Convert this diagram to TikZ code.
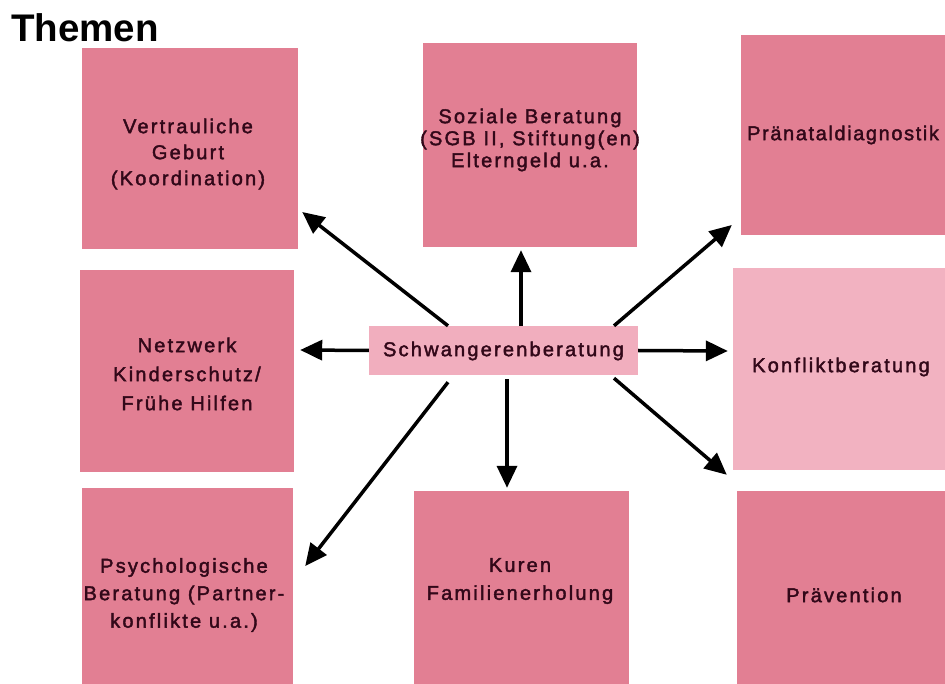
\documentclass[tikz,border=0pt]{standalone}
\usepackage{fontspec}
\setmainfont{Liberation Sans}
\newfontfamily\boxfont[LetterSpace=11,FakeBold=2]{Liberation Sans}
\newfontfamily\boxfontn[LetterSpace=8,FakeBold=2]{Liberation Sans}
\usetikzlibrary{arrows.meta}
\definecolor{pinkmain}{RGB}{226,127,147}
\definecolor{pinklight}{RGB}{242,178,193}
\definecolor{pinkcenter}{RGB}{241,174,190}
\definecolor{txtdark}{RGB}{50,8,25}
\tikzset{
  box/.style={fill=pinkmain, draw=none, inner sep=0pt},
  lbox/.style={fill=pinklight, draw=none, inner sep=0pt},
  btext/.style={font=\boxfont\fontsize{20}{26}\selectfont, text=txtdark, align=center, inner sep=0pt},
  conn/.style={line width=3.5pt, -{Triangle[length=22pt,width=20pt]}, black}
}
\begin{document}
\begin{tikzpicture}[x=1pt,y=-1pt]
\clip (0,0) rectangle (945,684);
\useasboundingbox (0,0) rectangle (945,684);
\fill[white] (0,0) rectangle (945,684);
% title
\node[anchor=base west, inner sep=0pt, font=\bfseries\fontsize{38.5}{40}\selectfont] (title) at (11,42) {Themen};
% boxes
\node[box, minimum width=216pt, minimum height=201pt] (vg) at (190,148.5) {};
\node[box, minimum width=214pt, minimum height=204pt] (sb) at (530,145) {};
\node[box, minimum width=220pt, minimum height=200pt] (pd) at (851,135) {};
\node[box, minimum width=214pt, minimum height=202pt] (nk) at (187,371) {};
\node[lbox, minimum width=222pt, minimum height=202pt] (kb) at (844,369) {};
\node[box, minimum width=211pt, minimum height=212pt] (pb) at (187.5,594) {};
\node[box, minimum width=215pt, minimum height=209pt] (kf) at (521.5,595.5) {};
\node[box, minimum width=218pt, minimum height=209pt] (pv) at (846,595.5) {};
\node[fill=pinkcenter, inner sep=0pt, minimum width=269pt, minimum height=49pt] (c) at (503.5,350.5) {};
% texts
\node[btext] (vgt) at (188,154) {Vertrauliche\\Geburt\\(Koordination)};
\node[btext, font=\boxfont\fontsize{20}{22}\selectfont] (sbt) at (530,140) {Soziale Beratung\\(SGB II, Stiftung(en)\\Elterngeld u.a.};
\node[btext, anchor=west, font=\boxfontn\fontsize{20}{26}\selectfont] (pdt) at (747,135) {Pränataldiagnostik};
\node[btext, font=\boxfont\fontsize{20}{29}\selectfont] (nkt) at (187,374) {Netzwerk\\Kinderschutz/\\Frühe Hilfen};
\node[btext] (kbt) at (841,367) {Konfliktberatung};
\node[btext, font=\boxfont\fontsize{20}{27.5}\selectfont] (pbt) at (184,595) {Psychologische\\Beratung (Partner-\\konflikte u.a.)};
\node[btext, font=\boxfont\fontsize{20}{28}\selectfont] (kft) at (520,581) {Kuren\\Familienerholung};
\node[btext] (pvt) at (844,595) {Prävention};
\node[btext] (ct) at (503.5,351) {Schwangerenberatung};
% connectors
\draw[conn] ([xshift=-55.5pt]c.north) -- ([xshift=4pt,yshift=-63.5pt]vg.east);
\draw[conn] ([xshift=17.5pt]c.north) -- ([xshift=-9pt,yshift=-3pt]sb.south);
\draw[conn] ([xshift=110.5pt]c.north) -- ([xshift=-9pt,yshift=-90pt]pd.west);
\draw[conn] (c.west) -- ([xshift=6pt,yshift=21pt]nk.east);
\draw[conn] (c.east) -- ([xshift=-5pt,yshift=18pt]kb.west);
\draw[conn] ([xshift=-55.5pt,yshift=-7pt]c.south) -- ([xshift=12pt,yshift=28pt]pb.east);
\draw[conn] ([xshift=3.5pt,yshift=-4pt]c.south) -- ([xshift=-14.5pt,yshift=3pt]kf.north);
\draw[conn] ([xshift=110.5pt,yshift=-3pt]c.south) -- ([xshift=-10pt,yshift=16pt]pv.north west);
\end{tikzpicture}
\end{document}
